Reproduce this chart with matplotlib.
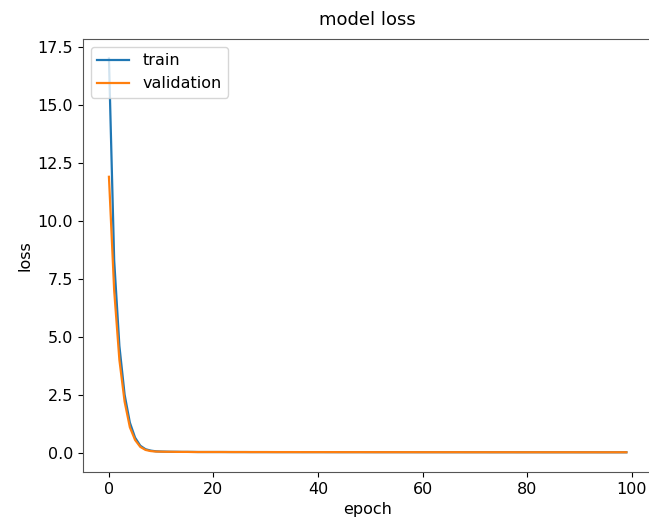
import numpy as np
import matplotlib.pyplot as plt

# loss per epoch
train_loss = [17.0, 8.3, 4.6, 2.5, 1.3, 0.65, 0.30, 0.15, 0.09, 0.06,
              0.05, 0.045, 0.04, 0.04, 0.035, 0.035, 0.035, 0.03, 0.03, 0.03,
              0.03, 0.03, 0.03, 0.028, 0.028, 0.028, 0.028, 0.027, 0.027, 0.027,
              0.027, 0.026, 0.026, 0.026, 0.026, 0.026, 0.025, 0.025, 0.025, 0.025,
              0.025, 0.025, 0.024, 0.024, 0.024, 0.024, 0.024, 0.024, 0.024, 0.023,
              0.023, 0.023, 0.023, 0.023, 0.023, 0.023, 0.022, 0.022, 0.022, 0.022,
              0.022, 0.022, 0.022, 0.022, 0.021, 0.021, 0.021, 0.021, 0.021, 0.021,
              0.021, 0.021, 0.021, 0.020, 0.020, 0.020, 0.020, 0.020, 0.020, 0.020,
              0.020, 0.020, 0.020, 0.019, 0.019, 0.019, 0.019, 0.019, 0.019, 0.019,
              0.019, 0.019, 0.019, 0.019, 0.018, 0.018, 0.018, 0.018, 0.018, 0.018]
val_loss = [11.9, 7.0, 4.0, 2.2, 1.1, 0.55, 0.25, 0.12, 0.07, 0.05,
            0.045, 0.04, 0.04, 0.035, 0.035, 0.035, 0.03, 0.03, 0.03, 0.03,
            0.03, 0.03, 0.029, 0.029, 0.028, 0.028, 0.028, 0.027, 0.027, 0.027,
            0.027, 0.027, 0.026, 0.026, 0.026, 0.026, 0.026, 0.025, 0.025, 0.025,
            0.025, 0.025, 0.025, 0.025, 0.024, 0.024, 0.024, 0.024, 0.024, 0.024,
            0.024, 0.023, 0.023, 0.023, 0.023, 0.023, 0.023, 0.023, 0.023, 0.022,
            0.022, 0.022, 0.022, 0.022, 0.022, 0.022, 0.022, 0.022, 0.021, 0.021,
            0.021, 0.021, 0.021, 0.021, 0.021, 0.021, 0.021, 0.021, 0.020, 0.020,
            0.020, 0.020, 0.020, 0.020, 0.020, 0.020, 0.020, 0.020, 0.020, 0.020,
            0.019, 0.019, 0.019, 0.019, 0.019, 0.019, 0.019, 0.019, 0.019, 0.019]
epochs = np.arange(len(train_loss))

plt.rcParams['font.size'] = 11.5
plt.rcParams['axes.edgecolor'] = '#555555'

fig = plt.figure(figsize=(6.49, 5.25), dpi=100)
# the reference screenshot cuts off the right spine
ax = fig.add_axes([0.128, 0.101, 0.877, 0.825])
ax.spines['right'].set_visible(False)
ax.plot(epochs, train_loss, label='train', lw=1.6)
ax.plot(epochs, val_loss, label='validation', lw=1.6)
ax.set_title('model loss', fontsize=13, pad=10)
ax.set_xlabel('epoch')
ax.set_ylabel('loss')
ax.legend(['train', 'validation'], loc='upper left')
fig.savefig('out.png', dpi=100)
